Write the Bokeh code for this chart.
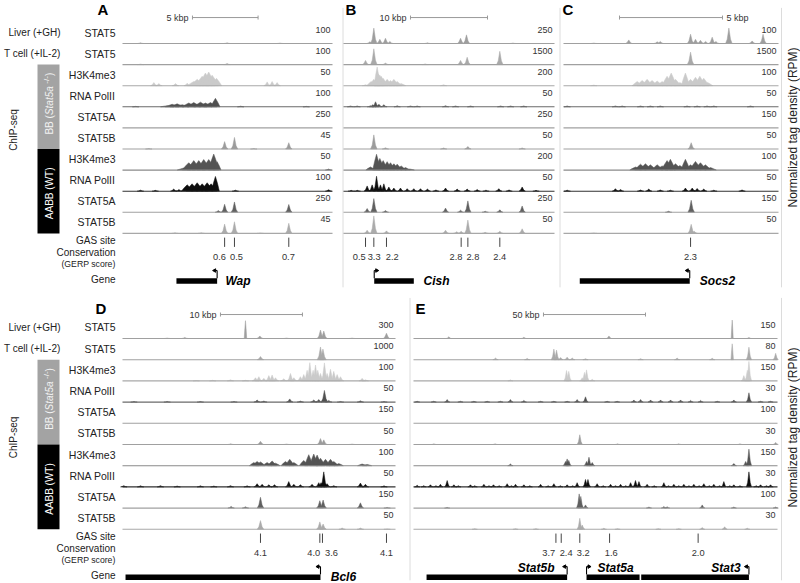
import math
from bokeh.plotting import figure
from bokeh.models import Range1d
from bokeh.layouts import row, column
from bokeh.embed import file_html
from bokeh.resources import INLINE
from bokeh.core.properties import value

FONT = "Liberation Sans"

# ---------------- data ----------------
TRACK_NAMES = ["STAT5", "STAT5", "H3K4me3", "RNA PolII", "STAT5A", "STAT5B",
               "H3K4me3", "RNA PolII", "STAT5A", "STAT5B"]
GROUP_LABELS = ["Liver (+GH)", "T cell (+IL-2)"]
TRACK_COLORS = ["#9e9e9e", "#a9a9a9", "#cacaca", "#505050", "#808080", "#9c9c9c",
                "#545454", "#0d0d0d", "#606060", "#ababab"]
BASE_COLORS = ["#a0a0a0", "#a0a0a0", "#a8a8a8", "#6a6a6a", "#a0a0a0", "#a0a0a0",
               "#8a8a8a", "#303030", "#a0a0a0", "#a8a8a8"]

# Panel A (Wap) -- positions in kbp, heights as fraction of track scale
A_SPAN = 16.0
A_SCALES = [100, 100, 50, 100, 250, 45, 50, 100, 250, 45]
A_TRACKS = [
    [(1.37, .03), (7.97, .03), (12.0, .02)],
    [(1.37, .02), (7.97, .05)],
    [(2.39, .15), (2.77, .10), (4.04, .10), (4.93, .12), (5.43, .20, .5), (5.69, .30, .5), (6.07, .45, .5),
     (6.32, .60, .5), (6.57, .65, .5), (6.83, .50, .5), (7.16, .35, .4), (11.02, .18), (11.40, .20), (11.78, .15)],
    [(1.0, .02), (3.40, .05, .5), (3.78, .12, .5), (4.16, .14, .5), (4.55, .10, .5), (5.05, .18, .5),
     (5.43, .20, .5), (5.94, .22, .5), (6.32, .18, .5), (6.70, .20, .5), (7.08, .40, .35), (9.0, .03), (14.0, .02)],
    [],
    [(2.0, .02), (7.78, .35), (8.53, .55), (10.0, .02), (12.67, .30)],
    [(4.67, .10, .5), (5.05, .35, .5), (5.43, .45, .5), (5.81, .45, .5), (6.19, .50, .5), (6.57, .50, .5),
     (6.95, .76, .4), (7.21, .40, .3), (15.7, .05)],
    [(1.37, .05), (2.5, .04), (3.90, .10), (4.30, .08), (4.93, .30, .45), (5.30, .35, .45), (5.69, .40, .45),
     (6.07, .35, .45), (6.45, .40, .45), (6.75, .35, .45), (7.08, .70, .3), (8.6, .05), (15.7, .07)],
    [(7.30, .08), (7.78, .38), (8.53, .49), (12.67, .37)],
    [(4.0, .03), (6.0, .03), (7.78, .44), (8.53, .55), (10.5, .02), (12.67, .48)],
]
A_GAS = [7.78, 8.53, 12.67]
A_GERP = ["0.6", "0.5", "0.7"]
A_GERP_X = [7.39, 8.68, 12.64]
A_GENES = [("Wap", 4.11, 7.21, "R", 7.84, "left", False)]
A_SCALEBAR = (5.33, 5, "5 kbp", "left")

# Panel B (Cish)
B_SPAN = 27.4
B_SCALES = [250, 1500, 200, 50, 250, 50, 200, 50, 250, 50]
B_TRACKS = [
    [(3.42, .08), (3.94, .73), (4.72, .20), (5.45, .25), (6.02, .10), (10.9, .03), (15.2, .25), (15.97, .41), (22.0, .02)],
    [(2.86, .20), (3.94, .75), (5.45, .07), (10.6, .03), (15.2, .20), (16.06, .35), (20.3, .63)],
    [(2.86, .05), (3.59, .20, .6), (3.94, .30, .6), (4.37, .89, .4), (4.55, .55, .6), (4.72, .50, .6), (4.90, .45, .6),
     (5.15, .35, .6), (5.67, .30, .6), (6.10, .25, .6), (6.54, .30, .6), (6.97, .20, .6), (7.49, .10, .6), (13.0, .05)],
    [(0.91, .04), (1.78, .04), (3.50, .05), (3.80, .10), (4.16, .24), (4.60, .12), (5.24, .10), (6.97, .05),
     (8.70, .04), (9.57, .04), (13.25, .05), (14.55, .04), (16.5, .04), (20.4, .04), (21.7, .04), (23.4, .04)],
    [],
    [(3.94, .67), (5.45, .06), (13.0, .05), (16.15, .12), (23.2, .05)],
    [(3.50, .15, .6), (4.29, .75, .5), (4.72, .55, .6), (5.15, .45, .6), (5.67, .40, .6), (6.10, .35, .6),
     (6.54, .30, .6), (6.97, .28, .6), (7.49, .20, .6), (8.05, .12, .6), (8.61, .05, .6)],
    [(1.0, .04), (1.8, .04), (3.07, .25), (3.72, .30), (4.29, .71), (4.80, .30), (5.24, .35), (5.89, .20),
     (6.54, .15), (7.40, .15), (8.27, .12), (9.13, .12), (10.0, .12), (10.9, .10), (12.0, .06), (13.25, .15),
     (14.76, .10), (16.06, .10), (17.36, .08), (18.5, .05), (20.17, .12), (21.5, .06), (23.2, .20), (25.0, .04)],
    [(3.07, .18), (3.94, .65), (5.45, .08), (13.25, .20), (15.2, .10), (16.15, .54), (18.4, .05), (20.3, .12), (23.2, .30)],
    [(3.07, .15), (3.94, .83), (5.58, .12), (13.25, .15), (14.7, .08), (15.28, .10), (16.15, .63), (18.4, .05),
     (20.3, .10), (23.2, .22)],
]
B_GAS = [2.86, 3.94, 5.58, 15.28, 16.15, 20.3]
B_GERP = ["0.5", "3.3", "2.2", "2.8", "2.8", "2.4"]
B_GERP_X = [2.05, 3.98, 6.32, 14.6, 16.8, 20.3]
B_GENES = [("Cish", 3.99, 9.13, "L", 10.4, "left", False)]
B_SCALEBAR = (8.7, 10, "10 kbp", "left")

# Panel C (Socs2)
C_SPAN = 10.44
C_SCALES = [100, 1500, 100, 50, 150, 50, 100, 50, 150, 50]
C_TRACKS = [
    [(1.47, .02), (3.17, .17), (4.55, .08), (4.70, .10), (6.17, .44), (6.41, .20), (6.65, .15), (6.90, .10),
     (7.22, .30), (7.40, .10), (8.03, .73), (9.16, .12), (9.69, .44)],
    [(6.17, .59)],
    [(1.47, .03), (3.58, .20, .25), (3.82, .25, .25), (4.06, .30, .25), (4.30, .25, .25), (4.55, .22, .25),
     (4.79, .20, .25), (5.03, .45, .25), (5.23, .60, .25), (5.44, .30, .25), (5.65, .15, .25), (5.92, .60, .2),
     (6.17, .30, .25), (6.41, .40, .25), (6.62, .45, .25), (6.81, .35, .25), (7.00, .15, .25)],
    [(0.18, .04), (2.52, .04), (2.85, .04), (3.74, .04), (4.22, .04), (4.70, .04), (6.00, .04), (6.49, .04),
     (6.97, .04), (7.30, .04), (9.08, .04)],
    [],
    [(6.20, .30)],
    [(3.50, .15, .28), (3.74, .28, .28), (3.98, .30, .28), (4.22, .25, .28), (4.55, .25, .28), (4.79, .20, .28),
     (5.03, .45, .28), (5.19, .51, .25), (5.44, .30, .28), (5.65, .22, .28), (5.92, .51, .22), (6.17, .25, .28),
     (6.41, .41, .28), (6.65, .35, .28), (6.89, .25, .28), (7.14, .12, .28)],
    [(0.18, .05), (2.52, .12), (2.77, .08), (3.74, .06), (4.14, .10), (4.70, .06), (5.19, .05), (5.92, .15),
     (6.25, .15), (6.49, .13), (6.81, .10), (7.30, .05), (8.67, .06)],
    [(5.10, .05), (6.20, .57)],
    [(1.47, .02), (6.20, .43), (6.35, .10)],
]
C_GAS = [6.17]
C_GERP = ["2.3"]
C_GERP_X = [6.17]
C_GENES = [("Socs2", 0.79, 6.13, "R", 6.62, "left", False)]
C_SCALEBAR = (2.72, 5, "5 kbp", "right")

# Panel D (Bcl6)
D_SPAN = 33.3
D_SCALES = [300, 1000, 100, 50, 150, 50, 100, 50, 150, 50]
D_TRACKS = [
    [(5.45, .02), (7.60, .05), (15.0, .84, .15), (16.75, .12), (20.0, .02), (24.15, .40), (24.55, .35),
     (28.0, .02), (32.2, .25)],
    [(16.83, .15), (24.15, .60), (24.45, .50)],
    [(9.0, .02), (11.0, .03), (13.17, .05), (15.0, .03), (16.22, .15), (16.63, .20), (17.24, .12), (17.85, .25),
     (18.25, .28), (18.66, .15), (19.67, .10), (20.49, .35), (20.90, .15), (21.70, .20), (22.11, .30),
     (22.52, .50), (22.85, .86), (23.25, .50), (23.54, .75), (23.82, .50), (24.15, .35), (24.63, .85),
     (24.96, .35), (25.37, .55), (25.77, .45), (26.18, .30), (26.59, .20), (29.23, .12), (29.63, .05)],
    [(1.4, .03), (5.45, .03), (9.5, .03), (13.6, .03), (16.42, .10), (17.24, .05), (20.40, .15), (21.70, .05),
     (23.33, .10), (23.94, .12), (24.63, .55), (25.16, .08), (26.59, .03), (29.02, .06), (31.9, .03)],
    [],
    [(13.2, .03), (16.83, .15), (20.0, .02), (24.15, .28), (24.55, .22), (28.0, .02)],
    [(16.02, .15, .55), (16.42, .20, .55), (16.83, .18, .55), (17.64, .15, .55), (18.25, .22, .55),
     (18.66, .12, .55), (19.88, .20, .55), (20.40, .30, .55), (20.90, .15, .55), (22.11, .25, .55),
     (22.72, .52, .5), (23.33, .55, .5), (23.74, .50, .5), (24.15, .35, .55), (24.76, .30, .55),
     (25.37, .30, .55), (25.77, .20, .55), (26.38, .10, .55), (29.23, .08, .55), (29.84, .06, .55)],
    [(0.16, .06), (2.2, .05), (4.63, .06), (6.67, .04), (9.5, .05), (11.14, .04), (13.17, .06), (15.2, .05),
     (16.42, .15), (17.03, .12), (17.85, .10), (18.54, .10), (20.28, .25), (20.90, .12), (21.70, .10),
     (23.12, .12), (23.94, .20), (24.22, .20), (24.55, .71), (24.96, .15), (25.77, .06), (29.02, .18),
     (29.63, .12), (31.9, .05)],
    [(13.25, .08), (15.0, .06), (16.83, .51), (24.07, .35), (24.47, .38), (29.02, .25), (32.28, .03)],
    [(16.83, .41), (24.07, .35), (24.47, .25), (26.79, .06), (29.02, .06), (32.28, .02)],
]
D_GAS = [16.83, 24.07, 24.39, 32.2]
D_GERP = ["4.1", "4.0", "3.6", "4.1"]
D_GERP_X = [16.83, 23.33, 25.49, 32.2]
D_GENES = [("Bcl6", 0.37, 24.15, "R", 25.4, "left", False)]
D_SCALEBAR = (11.95, 10, "10 kbp", "left")

# Panel E (Stat5b / Stat5a / Stat3)
E_SPAN = 178.4
E_SCALES = [150, 80, 150, 30, 100, 30, 150, 30, 100, 30]
E_TRACKS = [
    [(17.3, .08), (54.1, .06), (95.8, .12), (156.2, .87, .5), (164.4, .05)],
    [(40.2, .08), (55.7, .06), (68.8, .50), (70.1, .45), (72.1, .10), (75.3, .12), (77.8, .08), (84.3, .05),
     (111.3, .05), (129.2, .08), (146.4, .07), (156.2, .75, .6), (164.4, .59), (177.5, .30)],
    [(47.5, .05), (75.0, .49), (76.1, .45), (82.7, .15), (83.8, .40), (84.8, .52), (87.6, .08), (161.9, .25),
     (163.6, .50), (164.4, .92)],
    [(1.8, .04), (9.9, .04), (16.5, .12), (23.0, .04), (29.6, .04), (36.1, .04), (42.6, .04), (47.5, .12),
     (54.1, .08), (62.3, .04), (68.8, .04), (75.3, .04), (80.2, .12), (84.3, .25), (94.9, .04), (99.8, .04),
     (108.0, .10), (111.3, .12), (116.2, .10), (121.1, .10), (126.0, .10), (130.9, .10), (135.8, .08),
     (140.7, .08), (148.9, .04), (157.0, .10), (164.4, .44), (170.1, .04), (175.0, .04)],
    [],
    [(10.0, .03), (40.0, .03), (81.5, .46), (100.0, .03), (130.0, .03), (160.0, .03), (177.5, .10)],
    [(47.5, .08), (74.5, .20), (75.3, .32), (76.1, .25), (84.8, .20), (86.0, .40), (87.6, .15), (157.0, .10),
     (162.8, .20), (164.4, .78)],
    [(1.8, .08), (5.0, .06), (8.3, .10), (11.0, .06), (13.2, .12), (16.5, .30), (19.8, .10), (22.0, .06),
     (27.9, .10), (30.0, .06), (34.5, .12), (37.0, .06), (39.2, .10), (42.0, .06), (45.9, .15), (48.0, .06),
     (50.0, .12), (54.1, .10), (57.0, .06), (62.3, .12), (66.0, .06), (68.8, .15), (72.0, .06), (75.3, .10),
     (78.0, .06), (80.2, .20), (84.3, .35), (85.5, .35), (90.0, .15), (93.0, .06), (96.6, .12), (99.0, .06),
     (101.5, .12), (104.0, .06), (106.4, .20), (108.8, .30), (110.5, .25), (114.5, .12), (118.0, .06),
     (122.7, .20), (125.0, .06), (127.6, .12), (130.0, .06), (132.5, .12), (135.0, .06), (137.4, .12),
     (140.0, .06), (142.3, .15), (145.0, .06), (147.2, .12), (150.0, .06), (152.1, .25), (155.0, .06),
     (157.0, .10), (160.0, .06), (164.4, .71), (168.0, .06), (170.1, .10), (173.0, .06), (175.0, .10)],
    [(16.5, .03), (81.2, .67), (82.0, .55), (84.3, .15), (115.4, .05), (122.7, .07), (124.3, .06), (141.5, .15),
     (157.0, .05), (177.5, .05)],
    [(30.0, .03), (50.0, .03), (60.0, .03), (81.5, .52), (82.7, .20), (93.3, .05), (100.0, .03), (120.0, .03),
     (130.0, .03), (141.5, .08), (152.5, .12), (163.6, .05)],
]
E_GAS = [69.8, 72.4, 81.5, 96.1, 139.5]
E_GERP = ["3.7", "2.4", "3.2", "1.6", "2.0"]
E_GERP_X = [66.3, 74.8, 83.2, 96.9, 139.5]
E_GENES = [("Stat5b", 6.4, 75.3, "R", 69.1, "right", True),
           ("Stat5a", 84.8, 110.8, "L", 90.2, "left", True),
           ("Stat3", 111.6, 164.4, "R", 160.3, "right", True)]
E_SCALEBAR = (63.7, 50, "50 kbp", "left")

# ---------------- layout / style ----------------
TOP_ROW = dict(H=290, b0=43, u=21.1, ybar=1.23, ylet=1.59, chip=-4.1, rpm=-3.98)
BOT_ROW = dict(H=293, b0=48, u=21.2, ybar=1.13, ylet=1.415, chip=-4.67, rpm=-4.2)


def txt(p, xs, ys, texts, size, color="#222222", align="left", baseline="middle", style="normal", angle=0.0):
    p.text(x=xs, y=ys, text=texts, text_font=value(FONT), text_font_size="%spx" % size,
           text_color=color, text_align=align, text_baseline=baseline, text_font_style=style, angle=angle)


def base_fig(W, rowp, xr):
    H, b0, u = rowp["H"], rowp["b0"], rowp["u"]
    p = figure(width=W, height=H, x_range=xr, y_range=Range1d(-(H - b0) / u, b0 / u),
               output_backend="svg", toolbar_location=None, min_border=0,
               x_axis_location=None, y_axis_location=None, outline_line_color=None)
    p.background_fill_color = "white"
    p.border_fill_color = "white"
    try:
        p.xgrid.visible = False
        p.ygrid.visible = False
    except Exception:
        pass
    return p


def make_panel(letter, letter_px, span, geom, rowp, scales, tracks, gas, gerp, gerp_x, genes, bar, defw, borders_px):
    W, L, R = geom
    pxkb = (R - L) / span
    p = base_fig(W, rowp, Range1d(-L / pxkb, span + (W - R) / pxkb))
    H, b0, u = rowp["H"], rowp["b0"], rowp["u"]
    ybot = -(H - b0) / u
    for bpx in borders_px:
        xb = (bpx - L) / pxkb
        p.segment(x0=[xb], y0=[b0 / u - 0.35], x1=[xb], y1=[ybot + 0.15], line_color="#dcdcdc", line_width=1)
    # peaks
    for i, tr in enumerate(tracks):
        if not tr:
            continue
        xs, ys = [], []
        for pk in tr:
            x, h = pk[0], pk[1]
            if len(pk) > 2:
                w, s = pk[2], 0.55
            else:
                w, s = defw, 0.28
            xs.append([x - w, x - 0.5 * w, x, x + 0.5 * w, x + w])
            ys.append([-i, -i + s * h, -i + h, -i + s * h, -i])
        p.patches(xs, ys, fill_color=TRACK_COLORS[i], line_color=TRACK_COLORS[i], line_width=0.5)
    # baselines
    p.segment(x0=[0] * 10, x1=[span] * 10, y0=[-i for i in range(10)], y1=[-i for i in range(10)],
              line_color=BASE_COLORS, line_width=1.1)
    # scale numbers
    txt(p, [span - 2.0 / pxkb] * 10, [-i + 0.66 for i in range(10)], [str(s) for s in scales], 9,
        color="#333333", align="right")
    # scale bar
    x0, ln, lab, side = bar
    yb = rowp["ybar"]
    tk = 2.0 / u
    p.segment(x0=[x0, x0, x0 + ln], y0=[yb, yb - tk, yb - tk], x1=[x0 + ln, x0, x0 + ln], y1=[yb, yb + tk, yb + tk],
              line_color="#9a9a9a", line_width=1)
    if side == "left":
        txt(p, [x0 - 4.0 / pxkb], [yb], [lab], 9, color="#333333", align="right")
    else:
        txt(p, [x0 + ln + 4.0 / pxkb], [yb], [lab], 9, color="#333333", align="left")
    # letter
    if letter:
        txt(p, [(letter_px - L) / pxkb], [rowp["ylet"]], [letter], 15, color="#000000", style="bold")
    # GAS sites
    p.segment(x0=gas, x1=gas, y0=[-9.2] * len(gas), y1=[-9.64] * len(gas), line_color="#444444", line_width=1)
    txt(p, gerp_x, [-10.14] * len(gerp), gerp, 9.3, color="#333333", align="center")
    # genes
    for name, g0, g1, tss_side, lx, lal, above in genes:
        p.quad(left=[g0], right=[g1], bottom=[-11.39], top=[-11.13], fill_color="black", line_color=None)
        tss = g1 if tss_side == "R" else g0
        d = -1 if tss_side == "R" else 1
        ya = -10.76
        dx = d * 2.5 / pxkb
        p.segment(x0=[tss, tss], y0=[-11.13, ya], x1=[tss, tss + dx], y1=[ya, ya], line_color="black", line_width=1.1)
        p.scatter(x=[tss + dx], y=[ya], marker="triangle", size=3.5, angle=-d * math.pi / 2,
                  fill_color="black", line_color="black")
        ly = -10.82 if above else -11.27
        txt(p, [lx], [ly], [name], 12, color="#000000", align=lal, style="bold italic")
    return p


def make_labels(rowp, letter, letter_x):
    p = base_fig(118, rowp, Range1d(0, 118))
    u = rowp["u"]
    txt(p, [60, 60], [0.52, -0.48], GROUP_LABELS, 10, align="right")
    txt(p, [115] * 10, [-i + 0.52 for i in range(10)], TRACK_NAMES, 10.5, align="right")
    p.quad(left=[37, 37], right=[59, 59], top=[-1, -5], bottom=[-5, -9],
           fill_color=["#a3a3a3", "#000000"], line_color=None)
    # "BB (Stat5a -/-)" written bottom-to-top in pieces
    widths = [19.45, 28.9, 2.5, 7.6, 3.4]
    total = sum(widths) / u
    y = -2.85 - total / 2
    cx = 48.5
    pieces = [("BB (", 10, "normal", 0), ("Stat5a", 10, "italic", 0), ("", 10, "normal", 0),
              ("-/-", 8, "normal", -3), (")", 10, "normal", 0)]
    for (t, sz, st, off), w in zip(pieces, widths):
        if t:
            txt(p, [cx + off], [y], [t], sz, color="#f2f2f2", align="left", style=st, angle=math.pi / 2)
        y += w / u
    txt(p, [cx], [-7.1], ["AABB (WT)"], 10, color="#ffffff", align="center", angle=math.pi / 2)
    txt(p, [13], [rowp["chip"]], ["ChIP-seq"], 10, align="center", angle=math.pi / 2)
    txt(p, [115], [-9.36], ["GAS site"], 10, align="right")
    txt(p, [115], [-9.9], ["Conservation"], 10, align="right")
    txt(p, [115], [-10.45], ["(GERP score)"], 8.7, align="right")
    txt(p, [115], [-11.2], ["Gene"], 10, align="right")
    txt(p, [letter_x], [rowp["ylet"]], [letter], 15, color="#000000", style="bold")
    return p


def make_rpm(rowp):
    p = base_fig(18, rowp, Range1d(0, 18))
    txt(p, [10], [rowp["rpm"]], ["Normalized tag density (RPM)"], 12, align="center", angle=math.pi / 2)
    return p


labT = make_labels(TOP_ROW, "A", 97)
figA = make_panel(None, 0, A_SPAN, (220, 4, 214), TOP_ROW, A_SCALES, A_TRACKS, A_GAS, A_GERP, A_GERP_X,
                  A_GENES, A_SCALEBAR, 0.25, [])
figB = make_panel("B", 7, B_SPAN, (220, 5, 216), TOP_ROW, B_SCALES, B_TRACKS, B_GAS, B_GERP, B_GERP_X,
                  B_GENES, B_SCALEBAR, 0.42, [4.5])
figC = make_panel("C", 4, C_SPAN, (224, 5, 220), TOP_ROW, C_SCALES, C_TRACKS, C_GAS, C_GERP, C_GERP_X,
                  C_GENES, C_SCALEBAR, 0.16, [1.5, 223])
rpmT = make_rpm(TOP_ROW)

labB = make_labels(BOT_ROW, "D", 95)
figD = make_panel(None, 0, D_SPAN, (288, 4, 277), BOT_ROW, D_SCALES, D_TRACKS, D_GAS, D_GERP, D_GERP_X,
                  D_GENES, D_SCALEBAR, 0.40, [])
figE = make_panel("E", 9, E_SPAN, (376, 7, 371), BOT_ROW, E_SCALES, E_TRACKS, E_GAS, E_GERP, E_GERP_X,
                  E_GENES, E_SCALEBAR, 1.3, [3.5, 375])
rpmB = make_rpm(BOT_ROW)

layout = column(row(labT, figA, figB, figC, rpmT, spacing=0),
                row(labB, figD, figE, rpmB, spacing=0), spacing=0)

open("out.html", "w").write(file_html(layout, INLINE))
